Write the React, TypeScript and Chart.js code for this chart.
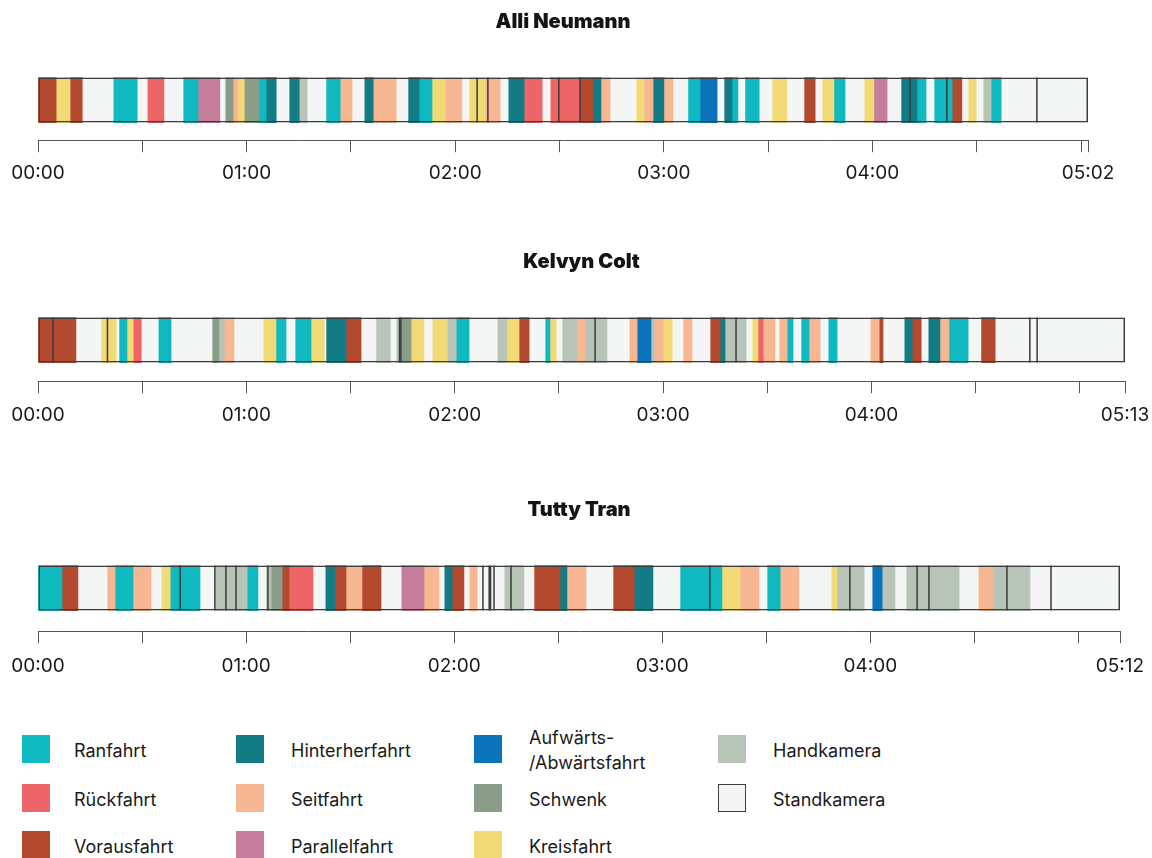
import React, { useEffect, useRef } from "react";
import { Chart, registerables } from "chart.js";

Chart.register(...registerables);

const FONT = "Inter, 'Noto Sans', 'DejaVu Sans', sans-serif";

// ---------- categories ----------
const categoryKeys = ["R", "Ru", "V", "H", "S", "P", "A", "Sw", "K", "Hk", "St"];
const categoryNames = [
  "Ranfahrt",
  "Rückfahrt",
  "Vorausfahrt",
  "Hinterherfahrt",
  "Seitfahrt",
  "Parallelfahrt",
  "Aufwärts-\n/Abwärtsfahrt",
  "Schwenk",
  "Kreisfahrt",
  "Handkamera",
  "Standkamera",
];
const categoryColors = [
  "#10b9c0",
  "#ee6567",
  "#b34a30",
  "#127b83",
  "#f8b793",
  "#c57d9b",
  "#0b73b9",
  "#8a9d88",
  "#f2db76",
  "#b9c4b8",
  "#f4f6f5",
];

// ---------- Alli Neumann (seconds) ----------
const alliTitle = "Alli Neumann";
const alliEnd = 302;
const alliBounds = [
  0, 5.2, 9.2, 12.7, 21.6, 28.5, 31.4, 36.2, 41.7, 46.0, 52.3, 53.8, 56.1, 57.5, 59.3, 63.6, 65.6,
  68.5, 72.2, 75.1, 77.4, 82.8, 86.9, 90.3, 93.8, 96.4, 103.0, 106.4, 109.6, 113.3, 117.1, 121.9,
  124.0, 128.6, 132.9, 135.2, 139.8, 145.0, 147.3, 155.9, 159.6, 161.9, 164.5, 172.0, 174.3, 176.9,
  180.0, 182.6, 186.9, 190.4, 195.3, 197.3, 199.6, 201.3, 203.3, 207.4, 211.1, 215.4, 220.3, 223.5,
  225.5, 228.9, 232.1, 237.6, 240.4, 244.2, 248.2, 252.8, 255.4, 257.7, 262.9, 265.7, 267.5, 269.8,
  271.8, 274.1, 277.0, 302,
];
const alliCats = [
  "V", "K", "V", "St", "R", "St", "Ru", "St", "R", "P",
  "St", "Sw", "S", "K", "Sw", "R", "H", "St", "H", "Hk",
  "St", "R", "S", "St", "H", "S", "St", "H", "R", "K",
  "S", "St", "K", "S", "St", "H", "Ru", "St", "Ru", "V",
  "H", "S", "St", "K", "S", "H", "S", "St", "R", "A",
  "St", "H", "R", "St", "R", "St", "K", "St", "V", "St",
  "K", "R", "St", "K", "P", "St", "H", "R", "St", "R",
  "V", "St", "K", "St", "Hk", "R", "St",
];
const alliCuts = [126.3, 129.4, 149.8, 155.9, 250.8, 261.4, 287.3];

// ---------- Kelvyn Colt ----------
const kelvynTitle = "Kelvyn Colt";
const kelvynEnd = 313;
const kelvynBounds = [
  0, 10.9, 18.1, 22.5, 23.3, 25.6, 27.4, 29.7, 34.6, 38.3, 50.1, 52.1, 53.6, 56.4, 64.8, 68.5, 71.4,
  74.0, 78.6, 82.4, 82.9, 88.7, 93.0, 97.3, 101.4, 103.1, 104.5, 107.4, 111.1, 113.5, 117.8, 120.4,
  124.1, 132.2, 135.0, 138.5, 141.4, 146.0, 147.4, 149.2, 150.9, 155.2, 157.5, 163.8, 170.2, 172.5,
  176.5, 177.4, 180.0, 182.6, 185.7, 188.3, 193.5, 196.4, 197.8, 203.9, 205.6, 207.3, 208.8, 212.2,
  213.4, 215.7, 217.4, 219.7, 222.0, 225.2, 227.5, 230.1, 239.6, 242.2, 243.3, 249.4, 251.7, 254.3,
  256.3, 259.7, 262.3, 267.8, 271.5, 275.6, 313,
];
const kelvynCats = [
  "V", "St", "K", "St", "R", "K", "Ru", "St", "R", "St",
  "Sw", "Hk", "S", "St", "K", "R", "St", "R", "K", "St",
  "H", "V", "St", "Hk", "St", "Hk", "Sw", "K", "St", "K",
  "Hk", "R", "St", "Hk", "K", "V", "St", "R", "K", "St",
  "Hk", "S", "Hk", "St", "S", "A", "Hk", "S", "K", "St",
  "S", "St", "V", "H", "Hk", "St", "K", "Ru", "S", "St",
  "S", "R", "St", "R", "S", "St", "R", "St", "S", "V",
  "St", "H", "V", "St", "H", "S", "R", "St", "V", "St",
];
const kelvynCuts = [4.3, 20.0, 104.1, 104.5, 160.4, 201.0, 285.6, 287.7];

// ---------- Tutty Tran ----------
const tuttyTitle = "Tutty Tran";
const tuttyEnd = 312;
const tuttyBounds = [
  0, 6.9, 11.5, 19.9, 22.2, 27.4, 32.6, 35.5, 38.1, 46.7, 51.0, 60.3, 63.4, 65.7, 67.2, 70.4, 72.4,
  79.3, 82.8, 85.6, 88.8, 93.4, 98.9, 104.7, 111.3, 115.6, 117.1, 119.4, 122.8, 124.3, 126.6, 134.4,
  140.1, 143.0, 150.5, 152.5, 158.0, 165.8, 171.9, 177.3, 185.1, 197.2, 202.4, 207.9, 210.2, 214.0,
  219.4, 228.7, 230.4, 238.2, 240.5, 243.4, 247.1, 250.3, 265.6, 271.1, 275.4, 286.0, 312,
];
const tuttyCats = [
  "R", "V", "St", "S", "R", "S", "St", "K", "R", "St",
  "Hk", "R", "St", "Hk", "Sw", "V", "Ru", "St", "H", "V",
  "S", "V", "St", "P", "S", "St", "H", "V", "St", "S",
  "St", "Hk", "St", "V", "H", "S", "St", "V", "H", "St",
  "R", "K", "S", "St", "R", "S", "St", "K", "Hk", "St",
  "A", "Hk", "St", "Hk", "St", "S", "Hk", "St",
];
const tuttyCuts = [41.0, 51.0, 54.2, 57.1, 66.3, 128.3, 130.1, 130.5, 131.5, 136.4, 193.7, 234.1, 253.5, 256.9, 279.4, 292.1];

// ---------- layout (not data) ----------
const CANVAS_W = 1152;
const AREA_LEFT = 38;
const TITLE_SIZE = 20;
const TICK_SIZE = 19;
const TICK_LEN = 12;

function fmt(v: number): string {
  const m = Math.floor(v / 60);
  const s = Math.round(v - m * 60);
  return String(m).padStart(2, "0") + ":" + String(s).padStart(2, "0");
}

const cutPlugin = {
  id: "cuts",
  afterDatasetsDraw(chart: any, _args: any, opts: any) {
    const cuts: number[] = (opts && opts.cuts) || [];
    const xs = chart.scales.x;
    const meta = chart.getDatasetMeta(0);
    const bar: any = meta.data[0];
    if (!bar) return;
    const { y, height } = bar.getProps(["y", "height"], true);
    const top = y - height / 2;
    const bottom = y + height / 2;
    const ctx = chart.ctx;
    ctx.save();
    ctx.strokeStyle = "#3a3a3a";
    ctx.lineWidth = 1.5;
    cuts.forEach((c) => {
      const px = xs.getPixelForValue(c);
      ctx.beginPath();
      ctx.moveTo(px, top);
      ctx.lineTo(px, bottom);
      ctx.stroke();
    });
    ctx.restore();
  },
};

function Timeline(props: {
  title: string;
  bounds: number[];
  cats: string[];
  cuts: number[];
  end: number;
  top: number;
  right: number;
  axisShift: number;
  labelPad: number;
}) {
  const ref = useRef<HTMLCanvasElement | null>(null);
  const { axisShift, labelPad } = props;
  const titleLine = TITLE_SIZE * 1.2;
  const titleTop = 22 - titleLine / 2;
  const titleBottom = 60 - axisShift - titleTop - titleLine;
  const canvasH = Math.round(140 + axisShift + TICK_LEN + TICK_SIZE * 1.2 + 2 * labelPad);
  useEffect(() => {
    const canvas = ref.current;
    if (!canvas) return;
    const { title, bounds, cats, cuts, end, right } = props;
    const datasets: any[] = cats.map((c, i) => {
      const idx = categoryKeys.indexOf(c);
      return {
        label: categoryNames[idx],
        data: [[bounds[i], bounds[i + 1]]],
        backgroundColor: categoryColors[idx],
        borderWidth: 0,
        barThickness: 45,
        grouped: false,
        inflateAmount: 0.4,
        order: 2,
      };
    });
    datasets.push({
      label: "outline",
      data: [[0, end]],
      backgroundColor: "rgba(0,0,0,0)",
      borderColor: "#3d3d3d",
      borderWidth: 1.5,
      borderSkipped: false,
      barThickness: 45,
      grouped: false,
      inflateAmount: 0,
      order: 0,
    });
    const tickValues: number[] = [];
    for (let v = 0; v <= end; v += 30) tickValues.push(v);
    if (tickValues[tickValues.length - 1] !== end) tickValues.push(end);

    const chart = new Chart(canvas, {
      type: "bar",
      data: { labels: [""], datasets },
      plugins: [cutPlugin as any],
      options: {
        animation: false,
        responsive: false,
        indexAxis: "y",
        layout: {
          autoPadding: false,
          padding: { left: AREA_LEFT, right: CANVAS_W - right, top: 0, bottom: 0 },
        },
        plugins: {
          legend: { display: false },
          tooltip: { enabled: false },
          title: {
            display: true,
            text: title,
            color: "#141414",
            font: { family: FONT, size: TITLE_SIZE, weight: "900" },
            padding: { top: titleTop, bottom: titleBottom },
          },
          cuts: { cuts },
        } as any,
        scales: {
          y: { type: "category", display: false, offset: true },
          x: {
            type: "linear",
            min: 0,
            max: end,
            position: "bottom",
            grid: {
              drawOnChartArea: false,
              drawTicks: true,
              tickLength: TICK_LEN,
              color: "#555555",
              lineWidth: 1,
            },
            border: { display: true, color: "#555555", width: 1 },
            afterBuildTicks: (axis: any) => {
              axis.ticks = tickValues.map((v) => ({ value: v }));
            },
            afterFit: (axis: any) => {
              axis.paddingLeft = 0;
              axis.paddingRight = 0;
            },
            ticks: {
              autoSkip: false,
              maxRotation: 0,
              padding: labelPad,
              color: "#1a1a1a",
              font: { family: FONT, size: TICK_SIZE },
              callback: (value: any) => {
                const v = Number(value);
                if (v === end) return fmt(v);
                if (v % 60 === 0 && v <= end - 30) return fmt(v);
                return "";
              },
            },
          },
        },
      } as any,
    });
    return () => chart.destroy();
  }, []);
  return (
    <canvas
      ref={ref}
      width={CANVAS_W}
      height={canvasH}
      style={{ position: "absolute", left: 0, top: props.top, width: CANVAS_W, height: canvasH }}
    />
  );
}

// legend layout: columns of category indices
const legendColumns = [
  [0, 1, 2],
  [3, 4, 5],
  [6, 7, 8],
  [9, 10],
];
const legendColX = [22, 236, 474, 718];
const legendTextX = [74, 291, 529, 773];
const legendRowY = [749, 798, 845];

function Legend() {
  const items: React.ReactNode[] = [];
  legendColumns.forEach((col, ci) => {
    col.forEach((catIdx, ri) => {
      const cy = legendRowY[ri];
      const isStand = categoryKeys[catIdx] === "St";
      items.push(
        <div
          key={"s" + catIdx}
          style={{
            position: "absolute",
            left: legendColX[ci],
            top: cy - 14,
            width: 28,
            height: 28,
            boxSizing: "border-box",
            background: categoryColors[catIdx],
            border: isStand ? "1.5px solid #3d3d3d" : "none",
          }}
        />
      );
      const lines = categoryNames[catIdx].split("\n");
      items.push(
        <div
          key={"t" + catIdx}
          style={{
            position: "absolute",
            left: legendTextX[ci],
            top: cy - (lines.length * 25) / 2 + 1,
            lineHeight: "25px",
            fontFamily: FONT,
            fontSize: 18,
            color: "#1a1a1a",
            whiteSpace: "nowrap",
          }}
        >
          {lines.map((l, i) => (
            <div key={i}>{l}</div>
          ))}
        </div>
      );
    });
  });
  return <>{items}</>;
}

export default function App() {
  return (
    <div
      style={{
        position: "absolute",
        left: 0,
        top: 0,
        width: 1152,
        height: 858,
        overflow: "hidden",
        background: "#ffffff",
      }}
    >
      <Timeline title={alliTitle} bounds={alliBounds} cats={alliCats} cuts={alliCuts} end={alliEnd} top={0} right={1088} axisShift={0} labelPad={10} />
      <Timeline title={kelvynTitle} bounds={kelvynBounds} cats={kelvynCats} cuts={kelvynCuts} end={kelvynEnd} top={240} right={1125} axisShift={1} labelPad={11} />
      <Timeline title={tuttyTitle} bounds={tuttyBounds} cats={tuttyCats} cuts={tuttyCuts} end={tuttyEnd} top={488} right={1120} axisShift={3} labelPad={12} />
      <Legend />
    </div>
  );
}
